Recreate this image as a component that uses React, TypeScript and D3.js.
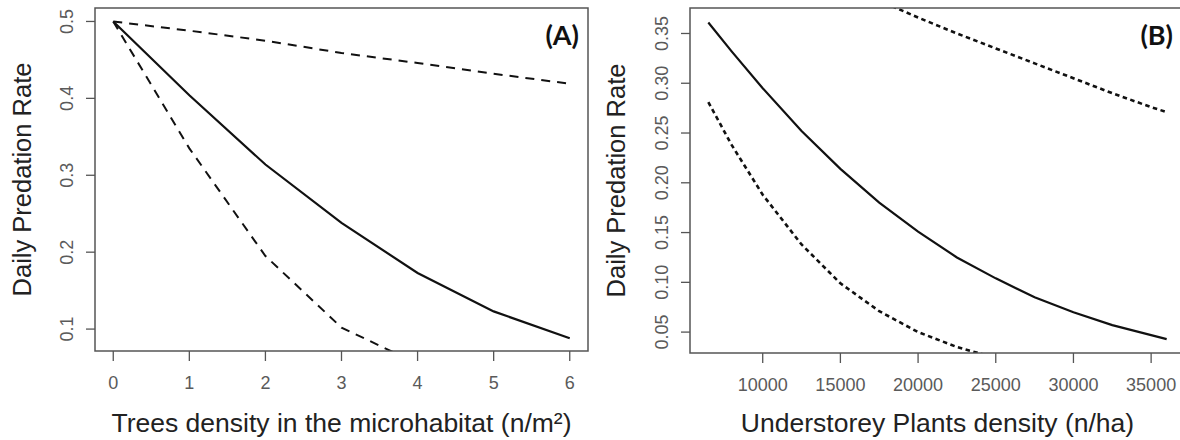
import React from "react";
import * as d3 from "d3";

// panel A: trees density (n/m²)
const treesX = [0, 1, 2, 3, 4, 5, 6];
const treesFit = [0.5, 0.404, 0.314, 0.238, 0.173, 0.123, 0.088];
const treesLower = [0.5, 0.335, 0.195, 0.102, 0.055, 0.028, 0.014];
const treesUpper = [0.5, 0.488, 0.475, 0.459, 0.446, 0.432, 0.419];
const treesXTicks = [0, 1, 2, 3, 4, 5, 6];
const treesYTicks = [0.1, 0.2, 0.3, 0.4, 0.5];

// panel B: understorey plants density (n/ha)
const plantsX = [6500, 8000, 10000, 12500, 15000, 17500, 20000, 22500, 25000, 27500, 30000, 32500, 35000, 36000];
const plantsFit = [0.361, 0.332, 0.295, 0.252, 0.214, 0.18, 0.151, 0.125, 0.104, 0.085, 0.07, 0.057, 0.047, 0.043];
const plantsLower = [0.281, 0.238, 0.188, 0.138, 0.099, 0.071, 0.05, 0.035, 0.024, 0.017, 0.012, 0.008, 0.006, 0.005];
const plantsUpper = [0.457, 0.446, 0.433, 0.416, 0.399, 0.383, 0.366, 0.35, 0.335, 0.32, 0.305, 0.29, 0.276, 0.271];
const plantsXTicks = [10000, 15000, 20000, 25000, 30000, 35000];
const plantsYTicks = [0.05, 0.1, 0.15, 0.2, 0.25, 0.3, 0.35];

const FONT = "'Liberation Sans', Arial, sans-serif";

type PanelProps = {
  id: string;
  tag: string;
  tagX: number;
  xs: number[];
  fit: number[];
  lower: number[];
  upper: number[];
  xDomain: [number, number];
  yDomain: [number, number];
  box: { left: number; right: number; top: number; bottom: number };
  xTicks: number[];
  yTicks: number[];
  yFmt: (v: number) => string;
  xTitle: string;
  yTitleX: number;
  dash: string;
  dashWidth: number;
};

const Panel = (p: PanelProps) => {
  const x = d3.scaleLinear().domain(p.xDomain).range([p.box.left, p.box.right]);
  const y = d3.scaleLinear().domain(p.yDomain).range([p.box.bottom, p.box.top]);
  const line = d3
    .line<number>()
    .x((_, i) => x(p.xs[i]))
    .y((d) => y(d));
  const midY = (p.box.top + p.box.bottom) / 2;
  const midX = (p.box.left + p.box.right) / 2;

  return (
    <g>
      <defs>
        <clipPath id={p.id}>
          <rect x={p.box.left} y={p.box.top} width={p.box.right - p.box.left} height={p.box.bottom - p.box.top} />
        </clipPath>
      </defs>
      <g clipPath={`url(#${p.id})`} fill="none" stroke="#111">
        <path d={line(p.fit) ?? ""} strokeWidth={2.2} />
        <path d={line(p.lower) ?? ""} strokeWidth={p.dashWidth} strokeDasharray={p.dash} />
        <path d={line(p.upper) ?? ""} strokeWidth={p.dashWidth} strokeDasharray={p.dash} />
      </g>
      <rect
        x={p.box.left}
        y={p.box.top}
        width={p.box.right - p.box.left}
        height={p.box.bottom - p.box.top}
        fill="none"
        stroke="#555"
        strokeWidth={1.5}
      />
      {p.xTicks.map((t) => (
        <g key={t} transform={`translate(${x(t)},${p.box.bottom})`}>
          <line y2={10} stroke="#555" strokeWidth={1.3} />
          <text y={38} textAnchor="middle" fontSize={18} fill="#5a5a5a" fontFamily={FONT}>
            {t}
          </text>
        </g>
      ))}
      {p.yTicks.map((t) => (
        <g key={t} transform={`translate(${p.box.left},${y(t)})`}>
          <line x2={-9} stroke="#555" strokeWidth={1.3} />
          <text
            transform="translate(-22,0) rotate(-90)"
            textAnchor="middle"
            fontSize={18}
            fill="#5a5a5a"
            fontFamily={FONT}
          >
            {p.yFmt(t)}
          </text>
        </g>
      ))}
      <text x={midX} y={432} textAnchor="middle" fontSize={26.5} fill="#222" fontFamily={FONT}>
        {p.xTitle}
      </text>
      <text
        transform={`translate(${p.yTitleX},${midY}) rotate(-90)`}
        textAnchor="middle"
        fontSize={25.5}
        fill="#222"
        fontFamily={FONT}
      >
        Daily Predation Rate
      </text>
      <text
        x={p.tagX}
        y={45}
        textAnchor="end"
        fontSize={27}
        fontWeight="bold"
        fill="#111"
        fontFamily="Lato, 'Open Sans', sans-serif"
      >
        {p.tag}
      </text>
    </g>
  );
};

const App = () => {
  return (
    <svg
      width={1180}
      height={440}
      style={{ position: "absolute", left: 0, top: 0, background: "#fff" }}
    >
      <Panel
        id="clipA"
        tag="(A)"
        tagX={579}
        xs={treesX}
        fit={treesFit}
        lower={treesLower}
        upper={treesUpper}
        xDomain={[-0.24, 6.24]}
        yDomain={[0.0715, 0.5175]}
        box={{ left: 95, right: 588, top: 8, bottom: 351 }}
        xTicks={treesXTicks}
        yTicks={treesYTicks}
        yFmt={d3.format(".1f")}
        xTitle="Trees density in the microhabitat (n/m²)"
        yTitleX={31}
        dash="9,7"
        dashWidth={2}
      />
      <Panel
        id="clipB"
        tag="(B)"
        tagX={1173}
        xs={plantsX}
        fit={plantsFit}
        lower={plantsLower}
        upper={plantsUpper}
        xDomain={[5320, 37180]}
        yDomain={[0.029, 0.3756]}
        box={{ left: 690, right: 1185, top: 8, bottom: 353 }}
        xTicks={plantsXTicks}
        yTicks={plantsYTicks}
        yFmt={d3.format(".2f")}
        xTitle="Understorey Plants density (n/ha)"
        yTitleX={625}
        dash="4.5,3.5"
        dashWidth={2.6}
      />
    </svg>
  );
};

export default App;
